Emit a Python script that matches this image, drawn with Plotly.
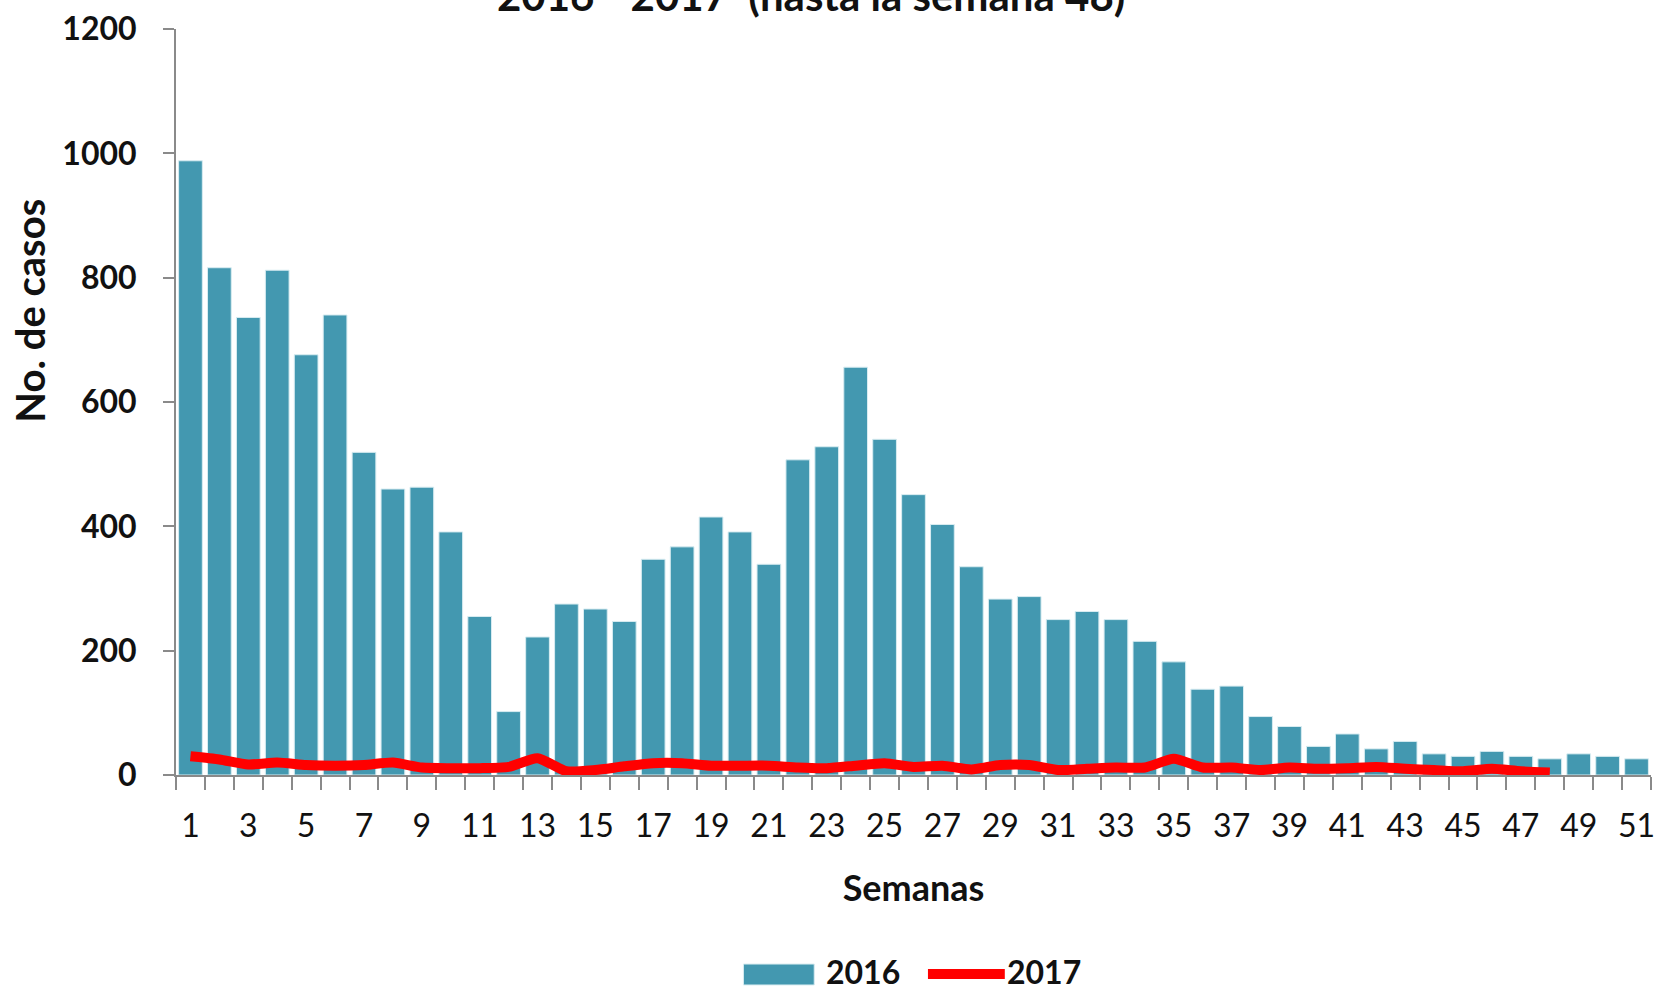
import plotly.graph_objects as go

# semanas epidemiologicas
weeks = list(range(1, 52))

cases_2016 = [988, 816, 736, 812, 676, 740, 519, 460, 463, 391,
              255, 102, 222, 275, 267, 247, 347, 367, 415, 391,
              339, 507, 528, 656, 540, 451, 403, 335, 283, 287,
              250, 263, 250, 215, 182, 138, 143, 94, 78, 46,
              66, 42, 54, 34, 30, 38, 30, 26, 34, 30, 26]

# 2017 hasta la semana 48
cases_2017 = [30, 25, 17, 20, 16, 15, 16, 20, 12, 11,
              11, 13, 27, 6, 8, 14, 19, 19, 15, 15,
              15, 12, 11, 15, 19, 13, 15, 9, 16, 16,
              8, 10, 12, 12, 26, 12, 12, 8, 12, 10,
              11, 13, 10, 8, 6, 10, 6, 4]

x_labels = weeks[::2]

BAR_COLOR = '#4398B0'
AXIS_COLOR = '#8a8a8a'
FONT = 'Lato'

fig = go.Figure()

fig.add_trace(go.Bar(
    x=weeks,
    y=cases_2016,
    name='2016',
    marker=dict(color=BAR_COLOR, line=dict(color='#d8ecf1', width=1)),
    showlegend=False,
))

fig.add_trace(go.Scatter(
    x=weeks[:len(cases_2017)],
    y=cases_2017,
    name='2017',
    mode='lines',
    line=dict(color='#ff0000', width=10, shape='spline', smoothing=0.6),
    showlegend=False,
))

fig.update_xaxes(
    range=[0.5, 51.5],
    tickmode='array',
    tickvals=x_labels,
    ticktext=[str(w) for w in x_labels],
    ticks='',
    ticklabelstandoff=22,
    tickfont=dict(family=FONT, size=32, color='#111111'),
    showline=True,
    linecolor=AXIS_COLOR,
    linewidth=2,
    showgrid=False,
    zeroline=False,
    minor=dict(tickmode='linear', tick0=0.5, dtick=1, ticks='outside',
               ticklen=13, tickwidth=2, tickcolor=AXIS_COLOR),
    title=dict(text='<b>Semanas</b>', standoff=32,
               font=dict(family=FONT, size=36, color='#111111')),
)

fig.update_yaxes(
    range=[0, 1200],
    dtick=200,
    ticks='outside',
    ticklen=11,
    tickwidth=2,
    tickcolor=AXIS_COLOR,
    ticklabelstandoff=20,
    tickfont=dict(family=FONT, size=32, color='#111111', weight='bold'),
    showline=True,
    linecolor=AXIS_COLOR,
    linewidth=2,
    showgrid=False,
    zeroline=False,
)

# titulo del eje y (no centrado en el area, como en el original)
fig.add_annotation(xref='paper', yref='paper', x=-0.0987, y=0.623,
                   xanchor='center', yanchor='middle', showarrow=False,
                   textangle=-90, text='<b>No. de casos</b>',
                   font=dict(family=FONT, size=40, color='#111111'))

# leyenda dibujada a mano, como en el original
fig.add_shape(type='rect', xref='paper', yref='paper',
              x0=0.3847, x1=0.4327, y0=-0.2815, y1=-0.2534,
              fillcolor=BAR_COLOR, line=dict(color='#d8ecf1', width=1))
fig.add_shape(type='line', xref='paper', yref='paper',
              x0=0.5098, x1=0.5619, y0=-0.2668, y1=-0.2668,
              line=dict(color='#ff0000', width=10))
fig.add_annotation(xref='paper', yref='paper', x=0.4402, y=-0.2640,
                   xanchor='left', yanchor='middle', showarrow=False,
                   borderpad=0, text='<b>2016</b>',
                   font=dict(family=FONT, size=32, color='#111111'))
fig.add_annotation(xref='paper', yref='paper', x=0.5625, y=-0.2640,
                   xanchor='left', yanchor='middle', showarrow=False,
                   borderpad=0, text='<b>2017</b>',
                   font=dict(family=FONT, size=32, color='#111111'))

# titulo (cortado por arriba en la imagen original)
fig.add_annotation(xref='paper', yref='paper', x=0.4307, y=1.0462,
                   xanchor='center', yanchor='middle', showarrow=False,
                   text='<b>2016 - 2017  (hasta la semana 48)</b>',
                   font=dict(family=FONT, size=42, color='#111111'))

fig.update_layout(
    width=1662,
    height=989,
    paper_bgcolor='white',
    plot_bgcolor='white',
    bargap=0.18,
    margin=dict(l=176, r=7, t=29, b=214),
    font=dict(family=FONT),
)

fig.write_html('out.html', config={'displayModeBar': False},
               post_script="document.body.style.margin='0';")
